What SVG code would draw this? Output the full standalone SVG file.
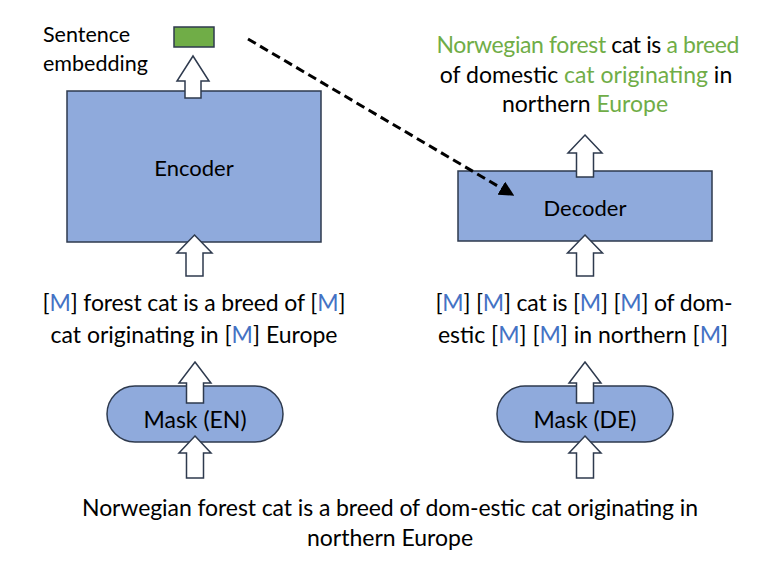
<svg xmlns="http://www.w3.org/2000/svg" width="772" height="580" viewBox="0 0 772 580">
<defs>
<style>
.box{fill:#8FAADC;stroke:#2E3A4E;stroke-width:1.5}
.barrow{fill:#fff;stroke:#2E3A4E;stroke-width:1.5;stroke-linejoin:miter}
.t{font-family:"Lato","Liberation Sans",sans-serif;font-size:23px;fill:#000}
.l{font-size:22px}
.s{font-size:21.5px}
.c{text-anchor:middle}
.g{fill:#70AD47}
.m{fill:#4472C4}
.dash{fill:none;stroke:#000;stroke-width:3;stroke-dasharray:9 5}
</style>
<marker id="ah" viewBox="0 0 10 10" refX="9" refY="5" markerWidth="5" markerHeight="5" orient="auto" markerUnits="strokeWidth">
<path d="M0,0 L10,5 L0,10 z" fill="#000"/>
</marker>
</defs>
<rect width="772" height="580" fill="#fff"/>

<g id="encoder">
<rect class="box" x="67" y="91" width="254" height="151"/>
<text class="t l c" x="194" y="176">Encoder</text>
</g>

<g id="decoder">
<rect class="box" x="458" y="171" width="254" height="70"/>
<text class="t l c" x="585" y="216">Decoder</text>
</g>

<g id="embedding">
<rect x="174" y="27" width="40" height="20" fill="#70AD47" stroke="#2E3A4E" stroke-width="1.5"/>
<text class="t s" x="43" y="42">Sentence</text>
<text class="t s" x="43" y="71">embedding</text>
</g>

<g id="mask-en">
<rect class="box" x="107" y="386" width="176" height="56" rx="28" ry="28"/>
<text class="t c" x="195" y="428">Mask (EN)</text>
</g>

<g id="mask-de">
<rect class="box" x="497" y="386" width="176" height="56" rx="28" ry="28"/>
<text class="t c" x="585" y="428">Mask (DE)</text>
</g>

<g id="output-text">
<text class="t c" x="588" y="53" textLength="303"><tspan class="g">Norwegian forest</tspan> cat is <tspan class="g">a breed</tspan></text>
<text class="t c" x="586" y="83"><tspan>of domestic </tspan><tspan class="g">cat originating</tspan><tspan> in</tspan></text>
<text class="t c" x="585" y="112">northern <tspan class="g">Europe</tspan></text>
</g>

<g id="masked-en">
<text class="t c" x="194" y="311" textLength="303">[<tspan class="m">M</tspan>] forest cat is a breed of [<tspan class="m">M</tspan>]</text>
<text class="t c" x="194" y="343">cat originating in [<tspan class="m">M</tspan>] Europe</text>
</g>

<g id="masked-de">
<text class="t c" x="584" y="311" textLength="297">[<tspan class="m">M</tspan>] [<tspan class="m">M</tspan>] cat is [<tspan class="m">M</tspan>] [<tspan class="m">M</tspan>] of dom-</text>
<text class="t c" x="583" y="343">estic [<tspan class="m">M</tspan>] [<tspan class="m">M</tspan>] in northern [<tspan class="m">M</tspan>]</text>
</g>

<g id="input-text">
<text class="t c" x="390" y="516" textLength="616">Norwegian forest cat is a breed of dom-estic cat originating in</text>
<text class="t c" x="390" y="546">northern Europe</text>
</g>

<g id="connectors">
<path class="dash" d="M248,39 L513,195" marker-end="url(#ah)"/>
<path class="barrow" d="M193,56 L209,81 L201,81 L201,98 L185,98 L185,81 L177,81 Z"/>
<path class="barrow" d="M194.5,235 L212,253 L203,253 L203,276 L186,276 L186,253 L177,253 Z"/>
<path class="barrow" d="M585,235 L602.5,253 L593.5,253 L593.5,276 L576.5,276 L576.5,253 L567.5,253 Z"/>
<path class="barrow" d="M585,135 L602,153 L593.5,153 L593.5,177 L576.5,177 L576.5,153 L568,153 Z"/>
<path class="barrow" d="M195,362 L211,383 L203.5,383 L203.5,403 L186.5,403 L186.5,383 L179,383 Z"/>
<path class="barrow" d="M195,436 L211,453 L203.5,453 L203.5,478 L186.5,478 L186.5,453 L179,453 Z"/>
<path class="barrow" d="M585,362 L601,383 L593.5,383 L593.5,403 L576.5,403 L576.5,383 L569,383 Z"/>
<path class="barrow" d="M585,436 L601,453 L593.5,453 L593.5,478 L576.5,478 L576.5,453 L569,453 Z"/>
</g>
</svg>
